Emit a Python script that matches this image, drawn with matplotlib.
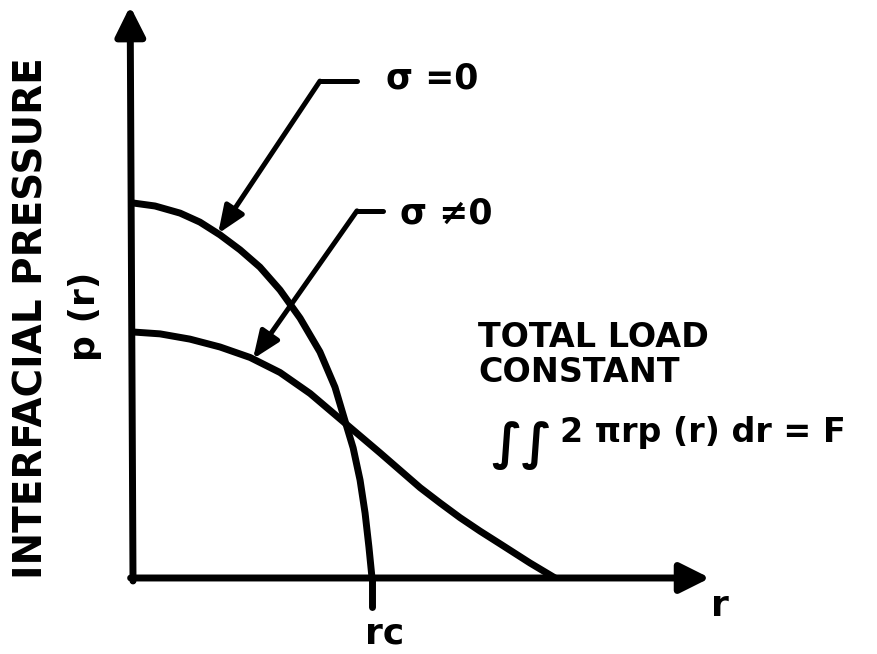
import numpy as np
import matplotlib.pyplot as plt

plt.rcParams['font.family'] = ['DejaVu Sans']
plt.rcParams['font.weight'] = 'bold'

# radius in units of r_c, pressure in units of the sigma=0 peak
r_zero = [0.0, 0.092, 0.197, 0.280, 0.364, 0.448, 0.531, 0.615, 0.699, 0.782,
          0.845, 0.887, 0.921, 0.950, 0.971, 0.987, 1.0]
p_zero = [1.0, 0.992, 0.973, 0.949, 0.915, 0.875, 0.829, 0.768, 0.693, 0.603,
          0.509, 0.419, 0.347, 0.261, 0.173, 0.083, 0.0]

r_sigma = [0.0, 0.113, 0.238, 0.364, 0.490, 0.615, 0.741, 0.887, 1.033, 1.201,
           1.285, 1.368, 1.452, 1.536, 1.661, 1.766]
p_sigma = [0.656, 0.651, 0.637, 0.616, 0.588, 0.548, 0.492, 0.413, 0.334, 0.241,
           0.200, 0.161, 0.125, 0.091, 0.040, 0.0]

r_c = 1.0

fig = plt.figure(figsize=(8.78, 6.54), dpi=100)
ax = fig.add_axes([0, 0, 1, 1])
ax.set_xlim(-0.5565, 3.117)
ax.set_ylim(-0.2027, 1.5413)
ax.axis('off')

LW = 5.0
K = 'black'

# axes with arrow heads
head = '-|>,head_length=0.9,head_width=0.45'
ax.annotate('', xy=(2.414, 0), xytext=(-0.01, 0),
            arrowprops=dict(arrowstyle=head, lw=LW, color=K, mutation_scale=20, shrinkA=0, shrinkB=0))
ax.annotate('', xy=(-0.012, 1.525), xytext=(0, -0.008),
            arrowprops=dict(arrowstyle=head, lw=LW, color=K, mutation_scale=20, shrinkA=0, shrinkB=0))

# curves
ax.plot(r_zero, p_zero, color=K, lw=LW, solid_capstyle='butt', solid_joinstyle='round')
ax.plot(r_sigma, p_sigma, color=K, lw=LW, solid_capstyle='butt', solid_joinstyle='round')
ax.plot([r_c, r_c], [0, -0.077], color=K, lw=LW, solid_capstyle='round')


def leader(r_tip, rr, pp, elbow, shelf_end):
    tip = (r_tip, np.interp(r_tip, rr, pp))
    ax.plot([elbow[0], shelf_end], [elbow[1], elbow[1]], color=K, lw=3.6, solid_capstyle='round')
    ax.annotate('', xy=tip, xytext=elbow,
                arrowprops=dict(arrowstyle='-|>,head_length=1.1,head_width=0.45', lw=3.6, color=K,
                                mutation_scale=15, shrinkA=0, shrinkB=0))


leader(0.356, r_zero, p_zero, (0.782, 1.325), 0.937)
leader(0.502, r_sigma, p_sigma, (0.937, 0.979), 1.046)

# labels
ax.text(1.059, 1.333, 'σ =0', fontsize=25, ha='left', va='center')
ax.text(1.117, 0.973, 'σ ≠0', fontsize=25, ha='left', va='center')

ax.text(-0.425, 0.693, 'INTERFACIAL PRESSURE', fontsize=28, rotation=90, ha='center', va='center')
ax.text(-0.20, 0.699, 'p (r)', fontsize=26, rotation=90, ha='center', va='center')

ax.text(1.444, 0.642, 'TOTAL LOAD', fontsize=24, ha='left', va='center')
ax.text(1.444, 0.547, 'CONSTANT', fontsize=24, ha='left', va='center')
ax.text(1.625, 0.352, '∫∫', fontsize=36, ha='center', va='center')
ax.text(1.787, 0.387, '2 πrp (r) dr = F', fontsize=24, ha='left', va='center')

ax.text(2.456, -0.075, 'r', fontsize=26, ha='center', va='center')
ax.text(1.054, -0.149, 'rc', fontsize=26, ha='center', va='center')

plt.savefig('out.png', dpi=100, facecolor='white')
